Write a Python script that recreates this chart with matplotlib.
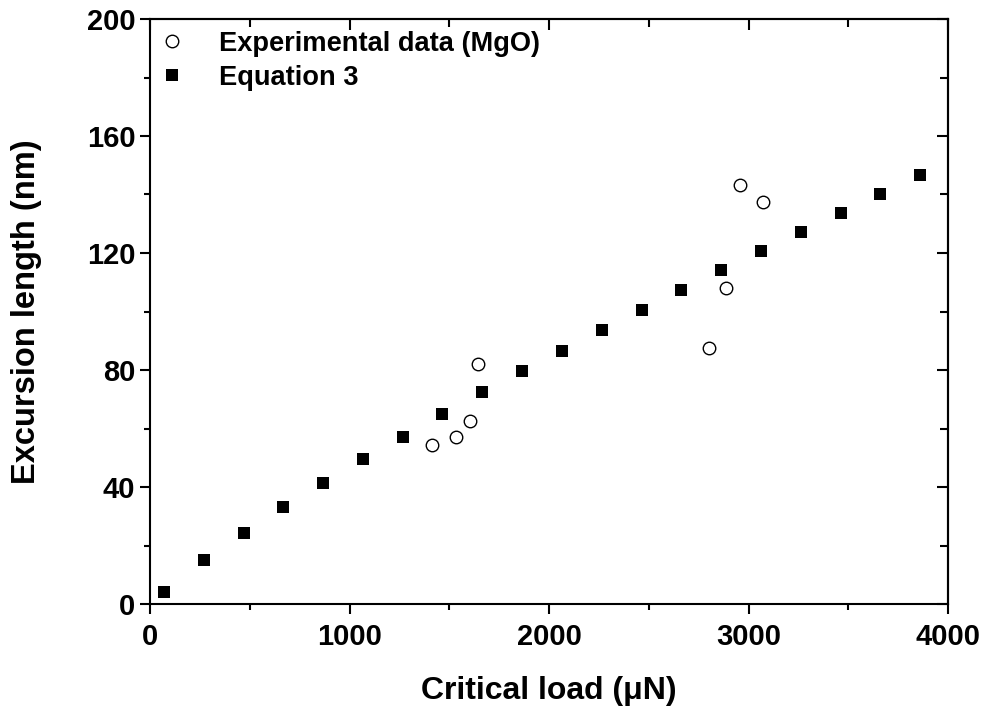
import matplotlib
matplotlib.use("Agg")
import matplotlib.pyplot as plt
from matplotlib.ticker import MultipleLocator

plt.rcParams['font.family'] = ['Liberation Sans', 'DejaVu Sans']
plt.rcParams['font.weight'] = 'bold'

# experimental points (MgO)
exp_load = [1413, 1534, 1604, 1644, 2802, 2887, 2955, 3071]
exp_len = [54.4, 57.1, 62.6, 82.1, 87.6, 108.1, 143.4, 137.3]

# equation 3
eq_load = [70, 270, 470, 667, 867, 1066, 1266, 1465, 1666, 1866,
           2065, 2266, 2464, 2663, 2862, 3063, 3262, 3462, 3660, 3861]
eq_len = [4.0, 15.0, 24.4, 33.2, 41.5, 49.6, 57.1, 64.8, 72.4, 79.6,
          86.6, 93.6, 100.4, 107.2, 114.1, 120.7, 127.2, 133.8, 140.3, 146.7]

fig = plt.figure(figsize=(9.84, 7.08), dpi=100)
ax = fig.add_axes([150/984, 1 - 604/708, 798/984, 585/708])

ax.plot(exp_load, exp_len, 'o', ms=9, mfc='white', mec='black', mew=1.0,
        label='Experimental data (MgO)', clip_on=False, zorder=3)
ax.plot(eq_load, eq_len, 's', ms=8.3, color='black', mew=0,
        label='Equation 3', clip_on=False, zorder=3)

ax.set_xlim(0, 4000)
ax.set_ylim(0, 200)
ax.xaxis.set_major_locator(MultipleLocator(1000))
ax.xaxis.set_minor_locator(MultipleLocator(500))
ax.yaxis.set_major_locator(MultipleLocator(40))
ax.yaxis.set_minor_locator(MultipleLocator(20))

for s in ax.spines.values():
    s.set_linewidth(1.5)

ax.tick_params(which='both', direction='out', width=1.5, labelsize=21,
               top=False, right=False)
ax.tick_params(which='major', length=7)
ax.tick_params(which='minor', length=4)
ax.tick_params(axis='x', which='major', pad=7)

# mirrored inward ticks on top and right
axt = ax.secondary_xaxis('top')
axt.xaxis.set_major_locator(MultipleLocator(1000))
axt.xaxis.set_minor_locator(MultipleLocator(500))
axt.tick_params(which='both', direction='in', width=1.5, labeltop=False)
axt.tick_params(which='major', length=8)
axt.tick_params(which='minor', length=6)
axt.spines['top'].set_linewidth(1.5)
axr = ax.secondary_yaxis('right')
axr.yaxis.set_major_locator(MultipleLocator(40))
axr.yaxis.set_minor_locator(MultipleLocator(20))
axr.tick_params(which='both', direction='in', width=1.5, labelright=False)
axr.tick_params(which='major', length=8)
axr.tick_params(which='minor', length=6)
axr.spines['right'].set_linewidth(1.5)

ax.set_xlabel('Critical load (\u03bcN)', fontsize=23, fontweight='bold', labelpad=18)
ax.set_ylabel('Excursion length (nm)', fontsize=23.5, fontweight='bold', labelpad=32)

ax.legend(loc='upper left', bbox_to_anchor=(0.011, 0.98), frameon=False,
          fontsize=19.6, borderpad=0, borderaxespad=0, handlelength=1.0,
          handletextpad=1.2, labelspacing=0.3, numpoints=1)

fig.savefig('out.png', dpi=100)
